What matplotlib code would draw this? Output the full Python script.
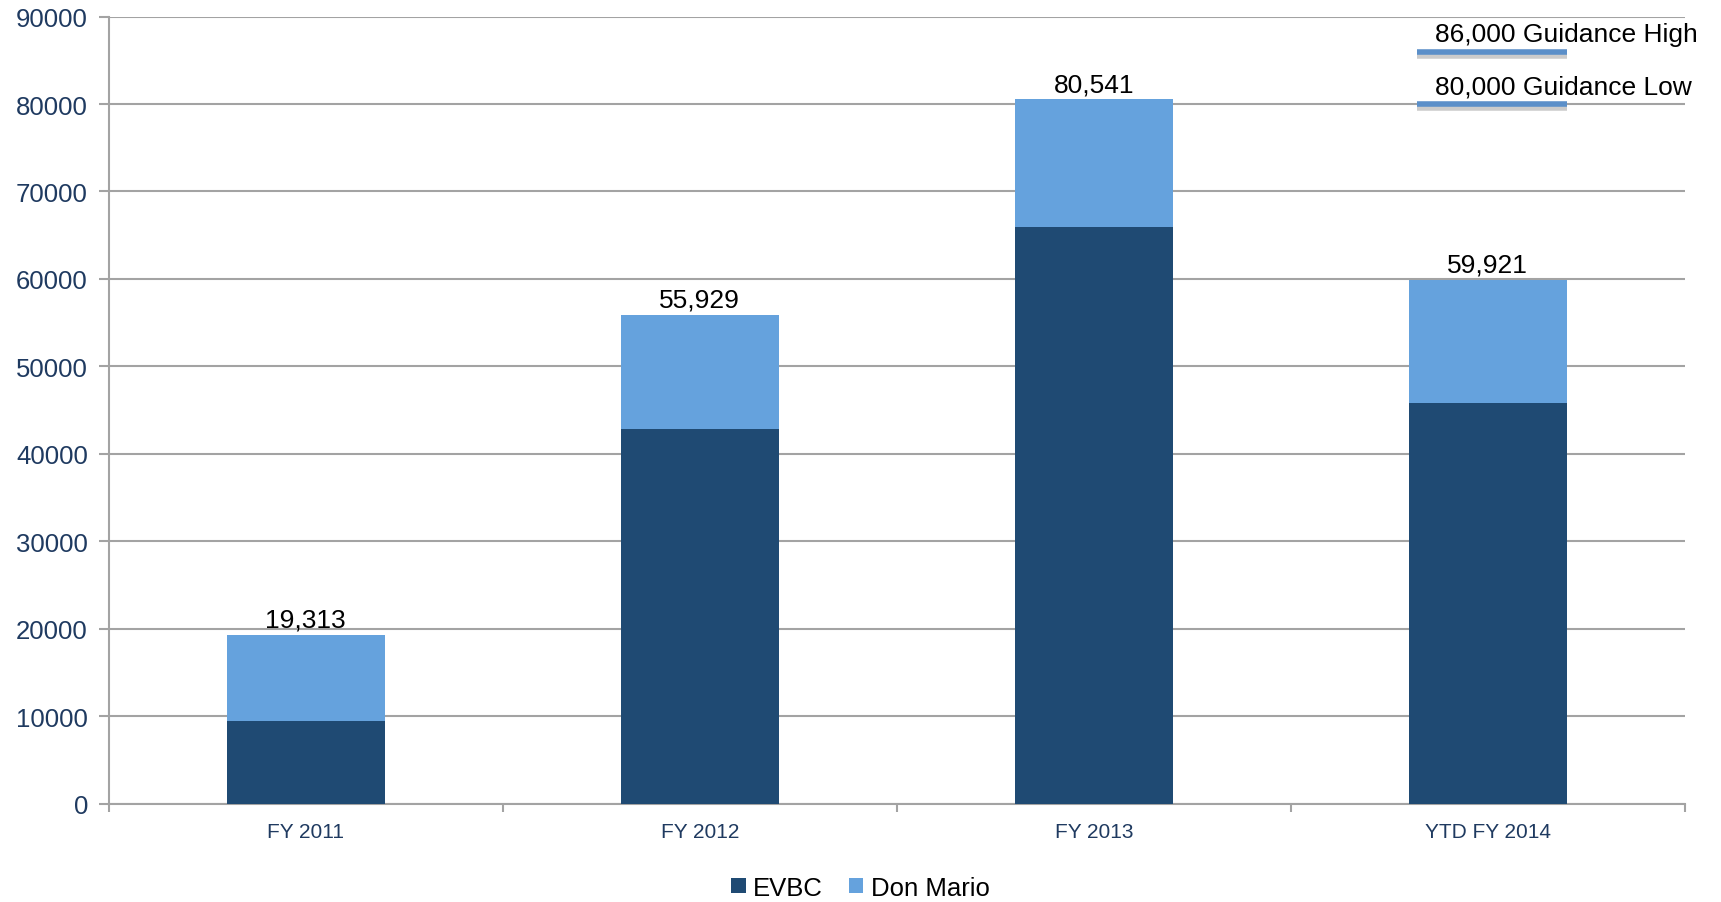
import matplotlib.pyplot as plt
from matplotlib.ticker import MultipleLocator

plt.rcParams['font.family'] = ['Liberation Sans', 'DejaVu Sans']

categories = ['FY 2011', 'FY 2012', 'FY 2013', 'YTD FY 2014']
totals = [19313, 55929, 80541, 59921]
evbc = [9400, 42800, 65900, 45800]
don_mario = [t - e for t, e in zip(totals, evbc)]

guidance_high = 86000
guidance_low = 80000

dark = '#1f4a73'
light = '#65a2dd'
navy_text = '#1f3a60'
grid_col = '#a3a3a3'

fig = plt.figure(figsize=(17.21, 9.03), dpi=100)
ax = fig.add_axes([0.0632, 0.109, 0.9158, 0.8715])

x = list(range(len(categories)))
width = 0.4
ax.bar(x, evbc, width, color=dark, label='EVBC', zorder=3)
ax.bar(x, don_mario, width, bottom=evbc, color=light, label='Don Mario', zorder=3)

for xi, t in zip(x, totals):
    ax.annotate(f'{t:,}', (xi, t), xytext=(0, 2), textcoords='offset points',
                ha='center', va='bottom', fontsize=19, color='black', zorder=5)

# guidance markers over the last bar
gx = x[-1]
for val, name in [(guidance_high, 'Guidance High'), (guidance_low, 'Guidance Low')]:
    x0, x1 = gx - width / 2 + 0.02, gx + width / 2
    ax.plot([x0, x1], [val - 450, val - 450], color='#555555', lw=4, alpha=0.3,
            zorder=3, solid_capstyle='butt')
    ax.plot([x0, x1], [val, val], color='#5b8fc9', lw=4, zorder=4,
            solid_capstyle='butt')
    ax.text(gx - width / 2 + 0.065, val + 2000, f'{val:,} {name}',
            ha='left', va='center', fontsize=19, color='black', zorder=5,
            clip_on=False)

ax.set_xlim(-0.5, len(categories) - 0.5)
ax.set_ylim(0, 90000)
ax.yaxis.set_major_locator(MultipleLocator(10000))
ax.set_xticks([i - 0.5 for i in range(len(categories) + 1)])
ax.set_xticklabels([''] * (len(categories) + 1))
ax.set_xticks(x, minor=True)
ax.set_xticklabels(categories, minor=True)
ax.tick_params(axis='x', which='minor', length=0, labelsize=15,
               labelcolor=navy_text, pad=13)
ax.tick_params(axis='x', which='major', length=6, width=1.5, color=grid_col,
               direction='out')
ax.tick_params(axis='y', length=7, width=1.5, color=grid_col,
               labelsize=18.5, labelcolor=navy_text, pad=8)

ax.grid(axis='y', color=grid_col, lw=1.5, zorder=0)
for side in ['top', 'right']:
    ax.spines[side].set_visible(False)
for side in ['left', 'bottom']:
    ax.spines[side].set_color(grid_col)
    ax.spines[side].set_linewidth(1.5)

fig.legend(loc='center', bbox_to_anchor=(0.5, 0.016), ncol=2,
           frameon=False, fontsize=18.5, handlelength=0.55, handleheight=0.55,
           handletextpad=0.3, columnspacing=1.0)

fig.savefig('out.png', dpi=100)
